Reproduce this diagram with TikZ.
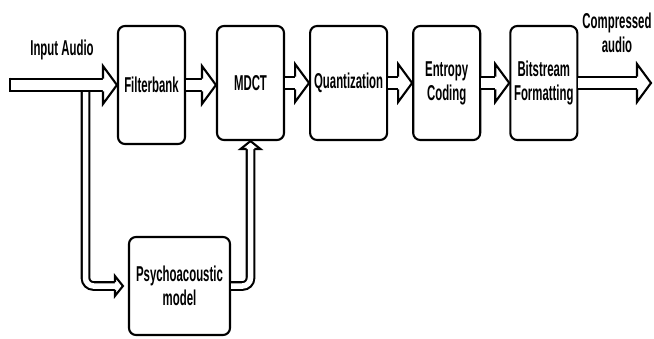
\documentclass[tikz,border=0pt]{standalone}
\usepackage{fontspec}
\setmainfont{Liberation Sans}[FakeStretch=0.53]
\usetikzlibrary{positioning}

\tikzset{
  block/.style={draw, line width=2.1pt, rounded corners=7pt, align=center,
    inner sep=0pt, minimum width=67pt, minimum height=114pt},
  bigshaft/.style={line width=2.1pt, double, double distance=10.5pt},
  thinshaft/.style={line width=2.1pt, double, double distance=5.5pt, rounded corners=8pt},
  bighead/.pic={\draw[line width=2.1pt, fill=white] (-14,6.3) -- (-14,19) -- (0,0) -- (-14,-19) -- (-14,-6.3);},
  smallhead/.pic={\draw[line width=2.1pt, fill=white] (-8,3.8) -- (-8,10) -- (0,0) -- (-8,-10) -- (-8,-3.8);}
}

\begin{document}
\begin{tikzpicture}[x=1pt, y=1pt, every node/.style={font=\fontsize{21.5}{24}\selectfont\bfseries}]
  \useasboundingbox (0,0) rectangle (654,338);

  % blocks
  \node[block, minimum height=118pt] (f) at (151.5,253) {Filterbank};
  \node[block] (m) at (250.5,255) {MDCT};
  \node[block, minimum width=77pt, right=24pt of m] (q) {Quantization};
  \node[block, right=24pt of q] (e) {Entropy\\Coding};
  \node[block, right=28pt of e] (b) {Bitstream\\Formatting};
  \node[block, minimum width=101pt, minimum height=98pt] (p) at (179.5,52) {Psychoacoustic\\model};

  % labels
  \node (inlabel) at (62,288.5) {Input Audio};
  \node[align=center] (outlabel) at (617,305) {Compressed\\audio};

  \coordinate (src) at (10,253);
  \coordinate (split) at (85.5,253);
  \coordinate (sink) at (651,255);

  % side branch to the psychoacoustic model and back to the MDCT
  \draw[thinshaft, shorten >=13pt] (split) |- (p.west);
  \pic at ([xshift=-5pt]p.west) {smallhead};
  \draw[thinshaft, shorten >=8pt] (p.east) -| (m.south);
  \pic[rotate=90] at (m.south) {smallhead};

  % main chain
  \draw[bigshaft, shorten >=14pt] (src) -- (f.west |- src);
  \draw[line width=2.1pt] ([yshift=7.3pt]src) -- ([yshift=-7.3pt]src);
  \pic at (f.west |- src) {bighead};
  \draw[bigshaft, shorten >=14pt] (f.east) -- (f.east -| m.west);
  \pic at (f.east -| m.west) {bighead};
  \foreach \a/\b in {m/q, q/e, e/b} {
    \draw[bigshaft, shorten >=14pt] (\a.east) -- (\b.west);
    \pic at (\b.west) {bighead};
  }
  \draw[bigshaft, shorten >=14pt] (b.east) -- (sink);
  \pic at (sink) {bighead};
\end{tikzpicture}
\end{document}
